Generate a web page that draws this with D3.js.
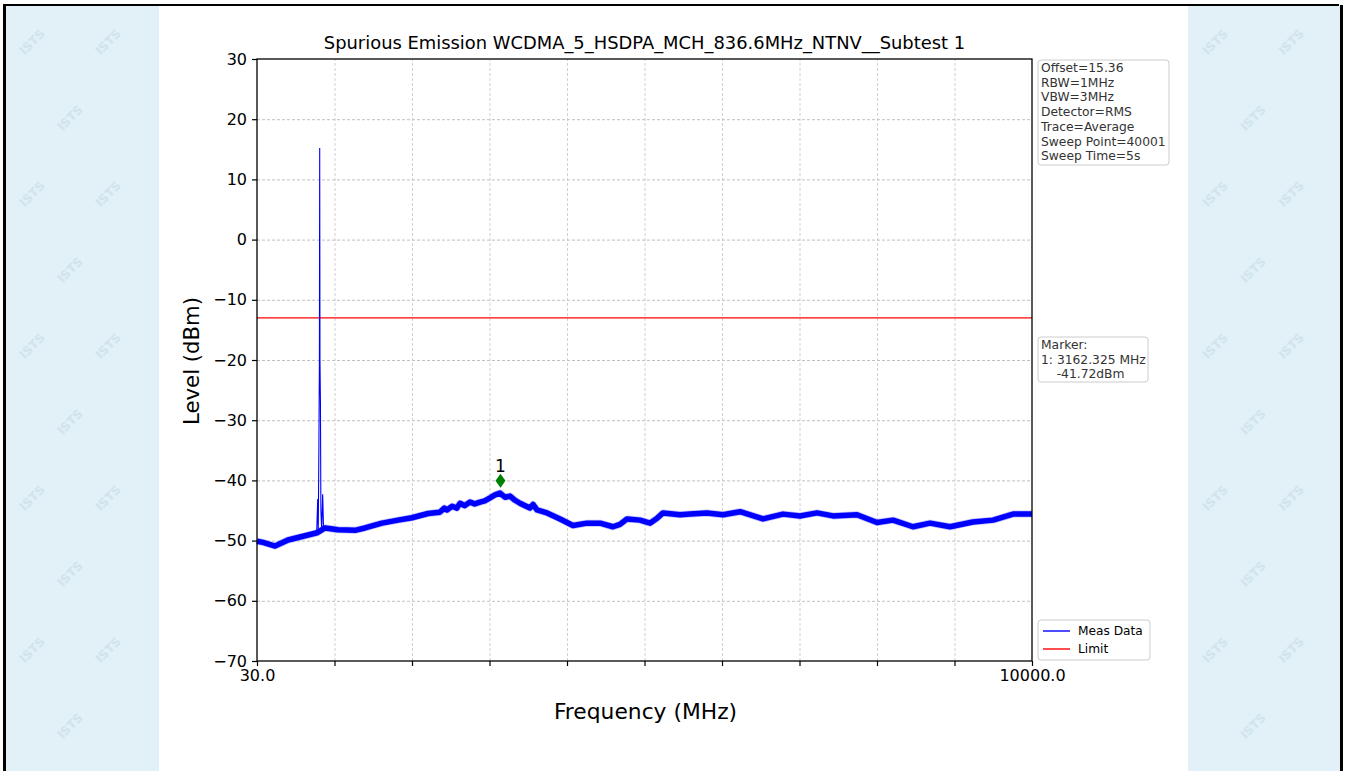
<!DOCTYPE html>
<html>
<head>
<meta charset="utf-8">
<script src="https://cdn.jsdelivr.net/npm/d3@7"></script>
<style>
  html, body { margin: 0; padding: 0; background: #ffffff; }
  svg { display: block; }
  text { font-family: "DejaVu Sans", sans-serif; }
</style>
</head>
<body>
<svg id="chart" width="1345" height="771"></svg>
<script>
// ---------- data ----------
const titleText = "Spurious Emission WCDMA_5_HSDPA_MCH_836.6MHz_NTNV__Subtest 1";
const xLabelText = "Frequency (MHz)";
const yLabelText = "Level (dBm)";

const xDomain = [30, 10000];
const yDomain = [-70, 30];
const xTickValues = [30, 1027, 2024, 3021, 4018, 5015, 6012, 7009, 8006, 9003, 10000];
const xTickLabels = ["30.0", "", "", "", "", "", "", "", "", "", "10000.0"];
const yTickValues = [-70, -60, -50, -40, -30, -20, -10, 0, 10, 20, 30];

// noise floor of the measured trace (MHz, dBm)
const floorFreq = [30, 107, 262, 429, 647, 802, 905, 1072, 1291, 1419, 1638, 1844, 2024, 2230,
  2380, 2440, 2474, 2540, 2600, 2642, 2700, 2770, 2830, 2899, 2960, 3028, 3092, 3156, 3221, 3285,
  3350, 3413, 3542, 3581, 3632, 3761, 3928, 4095, 4275, 4443, 4610, 4700, 4790, 4957, 5086, 5176,
  5253, 5472, 5600, 5819, 6025, 6244, 6540, 6797, 7016, 7234, 7440, 7749, 8006, 8212, 8469, 8688,
  8945, 9241, 9499, 9756, 10000];
const floorLevel = [-50.1, -50.3, -50.9, -49.9, -49.2, -48.7, -47.9, -48.2, -48.3, -47.9, -47.1, -46.6, -46.2, -45.5,
  -45.3, -44.6, -44.9, -44.3, -44.6, -43.8, -44.2, -43.6, -43.9, -43.6, -43.4, -42.9, -42.4, -42.1, -42.8, -42.6,
  -43.3, -43.8, -44.6, -44.0, -44.9, -45.4, -46.4, -47.5, -47.1, -47.1, -47.7, -47.3, -46.4, -46.6, -47.1, -46.3,
  -45.4, -45.7, -45.6, -45.4, -45.7, -45.2, -46.4, -45.6, -45.9, -45.4, -45.9, -45.7, -47.0, -46.6, -47.7, -47.1,
  -47.7, -46.9, -46.6, -45.6, -45.6];

// narrow emission lines around the carrier (MHz, dBm)
const spikeFreq = [798, 811, 818, 826, 833, 836.6, 840, 846, 852, 862, 875, 886];
const spikeLevel = [-48.6, -43.1, -48.4, -35, -20, 15.2, -20, -27, -45, -48.2, -42.3, -48.1];

const limitLevel = -13;

const markerFreq = 3162.325;
const markerLevel = -41.72;
const markerName = "1";

const infoLines = ["Offset=15.36", "RBW=1MHz", "VBW=3MHz", "Detector=RMS", "Trace=Average",
  "Sweep Point=40001", "Sweep Time=5s"];
const markerLines = ["Marker:", "1: 3162.325 MHz", "    -41.72dBm"];
const legendNames = ["Meas Data", "Limit"];
const legendColors = ["#0000ff", "#ff0000"];

// ---------- drawing ----------
const svg = d3.select("#chart");
const W = 1345, H = 771;

// page background: side panels + frame
const panelColor = "#e2f0f7";
svg.append("rect").attr("x", 5).attr("y", 0).attr("width", 154).attr("height", H).attr("fill", panelColor);
svg.append("rect").attr("x", 1188).attr("y", 0).attr("width", 154).attr("height", H).attr("fill", panelColor);
svg.append("rect").attr("x", 0).attr("y", 0).attr("width", W).attr("height", 4).attr("fill", "#ffffff");

// faint watermark
const wm = svg.append("g").attr("fill", "#d0e4ee").attr("font-size", 12).attr("font-weight", "bold");
[[5, 159], [1188, 1340]].forEach(([x0, x1]) => {
  let row = 0;
  for (let yy = 45; yy < H - 30; yy += 76, row++) {
    for (let xx = x0 + 30; xx <= x1 - 25; xx += 76) {
      const cx = xx + (row % 2) * 38;
      if (cx < x0 + 25 || cx > x1 - 25) continue;
      wm.append("text").attr("transform", `translate(${cx},${yy}) rotate(-45)`)
        .attr("text-anchor", "middle").text("ISTS");
    }
  }
});

// frame lines
svg.append("rect").attr("x", 3).attr("y", 4).attr("width", 1336).attr("height", 2).attr("fill", "#000");
svg.append("rect").attr("x", 3).attr("y", 4).attr("width", 3).attr("height", H).attr("fill", "#000");
svg.append("rect").attr("x", 1340).attr("y", 5).attr("width", 3).attr("height", H).attr("fill", "#000");

const x = d3.scaleLinear().domain(xDomain).range([257, 1032]);
const y = d3.scaleLinear().domain(yDomain).range([661, 59]);

// grid
const grid = svg.append("g");
grid.selectAll(".hg").data(yTickValues.slice(1, -1)).join("line")
  .attr("x1", x.range()[0]).attr("x2", x.range()[1])
  .attr("y1", d => y(d) + 0.5).attr("y2", d => y(d) + 0.5)
  .attr("stroke", "#b0b0b0").attr("stroke-width", 0.8).attr("stroke-dasharray", "3,2");
grid.selectAll(".vg").data(xTickValues.slice(1, -1)).join("line")
  .attr("y1", y.range()[0]).attr("y2", y.range()[1])
  .attr("x1", d => x(d) + 0.5).attr("x2", d => x(d) + 0.5)
  .attr("stroke", "#c4c4c4").attr("stroke-width", 0.8).attr("stroke-dasharray", "3,2");

// limit line
svg.append("line")
  .attr("x1", x.range()[0]).attr("x2", x.range()[1])
  .attr("y1", y(limitLevel)).attr("y2", y(limitLevel))
  .attr("stroke", "#ff0000").attr("stroke-width", 1.2);

// trace
const plot = svg.append("g");
const floorData = floorFreq.map((f, i) => [f, floorLevel[i]]);
const spikeData = spikeFreq.map((f, i) => [f, spikeLevel[i]]);
const line = d3.line().x(d => x(d[0])).y(d => y(d[1]));
plot.append("path").attr("d", line(floorData)).attr("fill", "none")
  .attr("stroke", "#0000ff").attr("stroke-width", 5.5).attr("stroke-linejoin", "round").attr("stroke-linecap", "butt");
plot.append("path").attr("d", line(floorData)).attr("fill", "none")
  .attr("stroke", "#0000ff").attr("stroke-width", 7).attr("stroke-opacity", 0.25).attr("stroke-linejoin", "round");
plot.append("path").attr("d", line(spikeData)).attr("fill", "none")
  .attr("stroke", "#0000ff").attr("stroke-width", 1.1).attr("stroke-linejoin", "miter");

// marker
const mx = x(markerFreq), my = y(markerLevel) - 10;
svg.append("path")
  .attr("d", `M${mx},${my - 7} L${mx + 5},${my} L${mx},${my + 7} L${mx - 5},${my} Z`)
  .attr("fill", "#008000");
svg.append("text").attr("x", mx).attr("y", my - 9).attr("text-anchor", "middle")
  .attr("font-size", 17).attr("fill", "#000").text(markerName);

// axes
const xAxis = d3.axisBottom(x).tickValues(xTickValues).tickSize(5).tickPadding(4)
  .tickFormat((d, i) => xTickLabels[i]);
const yAxis = d3.axisLeft(y).tickValues(yTickValues).tickSize(5).tickPadding(5)
  .tickFormat(d => (d < 0 ? "\u2212" + Math.abs(d) : String(d)));

const gx = svg.append("g").attr("transform", `translate(0,${y.range()[0]})`).call(xAxis);
const gy = svg.append("g").attr("transform", `translate(${x.range()[0]},0)`).call(yAxis);
[gx, gy].forEach(g => {
  g.select(".domain").remove();
  g.selectAll(".tick line").attr("stroke", "#000").attr("stroke-width", 1.2);
  g.selectAll(".tick text").attr("font-size", 16).attr("fill", "#000")
    .attr("font-family", "DejaVu Sans");
});

// frame of plot
svg.append("rect").attr("x", x.range()[0]).attr("y", y.range()[1])
  .attr("width", x.range()[1] - x.range()[0]).attr("height", y.range()[0] - y.range()[1])
  .attr("fill", "none").attr("stroke", "#000").attr("stroke-width", 1.3);

// titles
svg.append("text").attr("x", 644.5).attr("y", 49).attr("text-anchor", "middle")
  .attr("font-size", 17.9).attr("fill", "#000").text(titleText);
svg.append("text").attr("x", 645.5).attr("y", 719).attr("text-anchor", "middle")
  .attr("font-size", 21.8).attr("fill", "#000").text(xLabelText);
svg.append("text").attr("transform", "translate(199,361) rotate(-90)").attr("text-anchor", "middle")
  .attr("font-size", 21.2).attr("fill", "#000").text(yLabelText);

// text boxes
function textBox(x0, y0, w, h, lines, lineStep) {
  const g = svg.append("g");
  g.append("rect").attr("x", x0).attr("y", y0).attr("width", w).attr("height", h)
    .attr("rx", 3).attr("fill", "#ffffff").attr("stroke", "#cccccc").attr("stroke-width", 1);
  g.selectAll("text").data(lines).join("text")
    .attr("x", x0 + 3).attr("y", (d, i) => y0 + 12 + i * lineStep)
    .attr("font-size", 12.3).attr("fill", "#333333").attr("xml:space", "preserve")
    .style("white-space", "pre").text(d => d);
}
textBox(1038, 60, 131, 105, infoLines, 14.7);
textBox(1038, 337, 110, 45, markerLines, 14.7);

// legend
const lg = svg.append("g");
lg.append("rect").attr("x", 1038).attr("y", 620).attr("width", 112).attr("height", 40)
  .attr("rx", 3).attr("fill", "#ffffff").attr("stroke", "#cccccc").attr("stroke-width", 1);
legendNames.forEach((n, i) => {
  const ly = 631 + i * 18;
  lg.append("line").attr("x1", 1043).attr("x2", 1070).attr("y1", ly).attr("y2", ly)
    .attr("stroke", legendColors[i]).attr("stroke-width", 1.4);
  lg.append("text").attr("x", 1078).attr("y", ly + 4).attr("font-size", 12.2).attr("fill", "#000").text(n);
});
</script>
</body>
</html>
